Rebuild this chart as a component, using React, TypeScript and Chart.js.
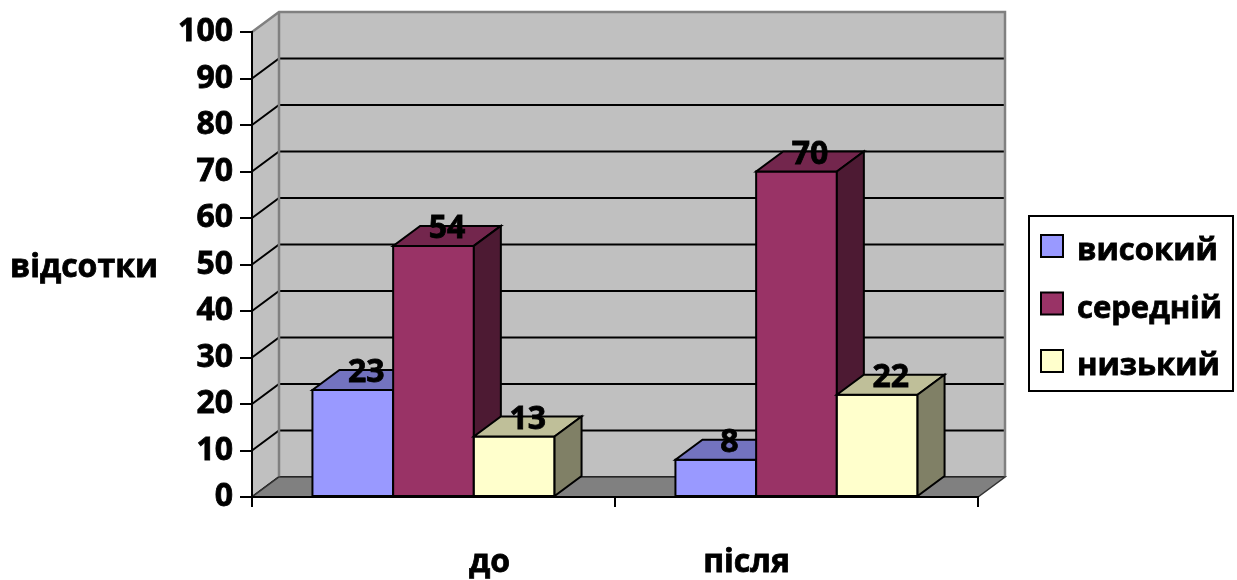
import React, { useEffect, useRef } from 'react';
import { Chart, registerables } from 'chart.js';

Chart.register(...registerables);

// ---- data ----
const categories = ['до', 'після'];
const seriesNames = ['високий', 'середній', 'низький'];
const highValues = [23, 8];
const midValues = [54, 70];
const lowValues = [13, 22];
const yAxisTitle = 'відсотки';
const yMin = 0;
const yMax = 100;
const yStep = 10;

// ---- styles ----
const frontColors = ['#9999FF', '#993366', '#FFFFCC'];
const topColors = ['#7373BF', '#73264D', '#BFBF99'];
const sideColors = ['#4D4D80', '#4D1A33', '#808066'];
const FONT_FAMILY = '"Open Sans", "Noto Sans", sans-serif';
const FONT = `bold 32px ${FONT_FAMILY}`;
const LEGEND_FONT = `bold 31px ${FONT_FAMILY}`;
const TEXT_STROKE = 0.8;
const DX = 27;
const DY = -20;
const catLabelShift = [56, -50];

function poly(ctx: CanvasRenderingContext2D, pts: number[][], fill: string) {
  ctx.beginPath();
  ctx.moveTo(pts[0][0], pts[0][1]);
  for (let i = 1; i < pts.length; i++) ctx.lineTo(pts[i][0], pts[i][1]);
  ctx.closePath();
  ctx.fillStyle = fill;
  ctx.fill();
  ctx.stroke();
}

function boldText(ctx: CanvasRenderingContext2D, s: string, x: number, y: number) {
  ctx.fillText(s, x, y);
  ctx.strokeText(s, x, y);
}

const threeD = {
  id: 'threeD',
  beforeDraw(chart: any) {
    const { ctx, chartArea: a, scales } = chart;
    const y = scales.y;
    ctx.save();
    ctx.fillStyle = '#C0C0C0';
    ctx.fillRect(a.left + DX, a.top + DY, a.right - a.left, a.bottom - a.top);
    ctx.beginPath();
    ctx.moveTo(a.left, a.top);
    ctx.lineTo(a.left + DX, a.top + DY);
    ctx.lineTo(a.left + DX, a.bottom + DY);
    ctx.lineTo(a.left, a.bottom);
    ctx.closePath();
    ctx.fill();
    ctx.strokeStyle = '#000';
    ctx.lineWidth = 2;
    y.ticks.forEach((t: any) => {
      if (t.value >= yMax) return;
      const py = y.getPixelForValue(t.value);
      ctx.beginPath();
      ctx.moveTo(a.left, py);
      ctx.lineTo(a.left + DX, py + DY);
      ctx.lineTo(a.right + DX, py + DY);
      ctx.stroke();
    });
    ctx.strokeStyle = '#808080';
    ctx.lineWidth = 2.5;
    ctx.beginPath();
    ctx.moveTo(a.left, a.top);
    ctx.lineTo(a.left + DX, a.top + DY);
    ctx.lineTo(a.right + DX, a.top + DY);
    ctx.lineTo(a.right + DX, a.bottom + DY);
    ctx.moveTo(a.left + DX, a.top + DY);
    ctx.lineTo(a.left + DX, a.bottom + DY);
    ctx.stroke();
    ctx.strokeStyle = '#333';
    ctx.lineWidth = 1.5;
    poly(ctx, [[a.left, a.bottom], [a.right, a.bottom], [a.right + DX, a.bottom + DY], [a.left + DX, a.bottom + DY]], '#808080');
    ctx.restore();
  },
  afterDatasetsDraw(chart: any) {
    const { ctx } = chart;
    const n = chart.data.labels.length;
    const metas = chart.data.datasets.map((_: any, i: number) => chart.getDatasetMeta(i));
    ctx.save();
    ctx.lineWidth = 2;
    ctx.strokeStyle = '#000';
    ctx.lineJoin = 'miter';
    for (let c = 0; c < n; c++) {
      for (let d = 0; d < metas.length; d++) {
        const el = metas[d].data[c];
        const { x, y, base, width } = el.getProps(['x', 'y', 'base', 'width'], true);
        const l = x - width / 2;
        const r = x + width / 2;
        poly(ctx, [[l, y], [r, y], [r, base], [l, base]], frontColors[d]);
        poly(ctx, [[l, y], [r, y], [r + DX, y + DY], [l + DX, y + DY]], topColors[d]);
        poly(ctx, [[r, y], [r + DX, y + DY], [r + DX, base + DY], [r, base]], sideColors[d]);
      }
    }
    ctx.font = FONT;
    ctx.fillStyle = '#000';
    ctx.lineWidth = TEXT_STROKE;
    ctx.textAlign = 'center';
    ctx.textBaseline = 'alphabetic';
    for (let c = 0; c < n; c++) {
      for (let d = 0; d < metas.length; d++) {
        const el = metas[d].data[c];
        const { x, y } = el.getProps(['x', 'y'], true);
        boldText(ctx, String(chart.data.datasets[d].data[c]), x + DX / 2, y - 8);
      }
    }
    ctx.restore();
  },
  afterDraw(chart: any) {
    const { ctx, scales } = chart;
    ctx.save();
    ctx.font = FONT;
    ctx.fillStyle = '#000';
    ctx.strokeStyle = '#000';
    ctx.lineWidth = TEXT_STROKE;
    ctx.textBaseline = 'alphabetic';
    ctx.textAlign = 'center';
    boldText(ctx, yAxisTitle, 84, 277);
    chart.data.labels.forEach((lab: string, i: number) => {
      const px = scales.x.getPixelForValue(i) + catLabelShift[i];
      boldText(ctx, lab, px, 572);
    });
    // legend
    ctx.lineWidth = 2;
    ctx.strokeRect(1029, 216, 204, 175);
    ctx.textAlign = 'left';
    ctx.font = LEGEND_FONT;
    chart.data.datasets.forEach((ds: any, i: number) => {
      const base = 260 + i * 57.5;
      ctx.lineWidth = 2;
      ctx.fillStyle = frontColors[i];
      ctx.fillRect(1041, base - 25, 22, 22);
      ctx.strokeRect(1041, base - 25, 22, 22);
      ctx.fillStyle = '#000';
      ctx.lineWidth = TEXT_STROKE;
      boldText(ctx, ds.label, 1077, base);
    });
    ctx.restore();
  },
};

export default function App() {
  const ref = useRef<HTMLCanvasElement | null>(null);
  useEffect(() => {
    if (!ref.current) return;
    const seriesValues = [highValues, midValues, lowValues];
    const chart = new Chart(ref.current, {
      type: 'bar',
      data: {
        labels: categories,
        datasets: seriesNames.map((name, i) => ({
          label: name,
          data: seriesValues[i],
          backgroundColor: frontColors[i],
          borderColor: '#000',
          borderWidth: 2,
          barPercentage: 1,
          categoryPercentage: 0.667,
        })),
      },
      options: {
        responsive: false,
        animation: false,
        devicePixelRatio: 1,
        layout: { padding: { top: 32, right: 259, bottom: 0, left: 0 } },
        plugins: { legend: { display: false }, tooltip: { enabled: false } },
        scales: {
          x: {
            grid: { offset: true, drawOnChartArea: false, drawTicks: true, tickLength: 10, color: '#000', lineWidth: 2 },
            border: { display: true, color: '#000', width: 2 },
            ticks: { display: false },
            afterFit: (s: any) => { s.height = 83; },
          },
          y: {
            min: yMin,
            max: yMax,
            ticks: {
              stepSize: yStep,
              color: '#000',
              padding: 7,
              textStrokeColor: '#000',
              textStrokeWidth: TEXT_STROKE,
              font: { family: FONT_FAMILY, weight: 'bold', size: 32 },
            },
            grid: { drawOnChartArea: false, drawTicks: true, tickLength: 12, color: '#000', lineWidth: 2 },
            border: { display: true, color: '#000', width: 2 },
            afterFit: (s: any) => { s.width = 252; },
          },
        },
      },
      plugins: [threeD],
    } as any);
    return () => chart.destroy();
  }, []);
  return (
    <div style={{ position: 'absolute', left: 0, top: 0, width: 1237, height: 580, background: '#fff' }}>
      <canvas ref={ref} width={1237} height={580} style={{ display: 'block' }} />
    </div>
  );
}
